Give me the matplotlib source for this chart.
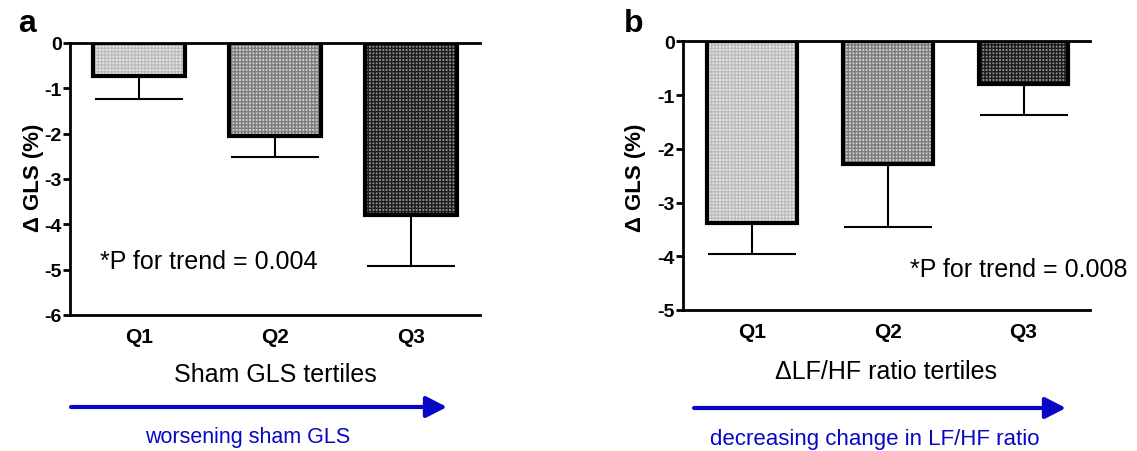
import matplotlib
matplotlib.use("Agg")
import matplotlib.pyplot as plt
from matplotlib.patches import FancyArrowPatch

plt.rcParams['font.family'] = ['Liberation Sans', 'DejaVu Sans']
plt.rcParams['hatch.linewidth'] = 1.0
plt.rcParams['axes.unicode_minus'] = False

# data
tertiles = ['Q1', 'Q2', 'Q3']
sham_mean = [-0.72, -2.05, -3.80]
sham_err = [0.52, 0.47, 1.13]
lfhf_mean = [-3.38, -2.28, -0.79]
lfhf_err = [0.57, 1.18, 0.59]

face_cols = ['#e8e8e8', '#d0d0d0', '#8c8c8c']
hatch_cols = ['#bcbcbc', '#7c7c7c', '#1c1c1c']
blue = '#0808c4'

W, H = 1137, 452
fig = plt.figure(figsize=(W / 100, H / 100), dpi=100)


def fx(x):
    return x / W


def fy(y):
    return 1 - y / H


def panel(rect, means, errs, ymin, width, xlim):
    ax = fig.add_axes(rect)
    x = range(len(means))
    for i in x:
        ax.bar(i, means[i], width=width, color=face_cols[i], edgecolor=hatch_cols[i],
               hatch='+++++', linewidth=0, zorder=2)
    ax.bar(x, means, width=width, fill=False, edgecolor='black', linewidth=3, zorder=3)
    ax.errorbar(x, means, yerr=[errs, [0] * len(errs)], fmt='none', ecolor='black',
                elinewidth=1.5, capsize=32, capthick=1.5, zorder=1)
    ax.set_xlim(*xlim)
    ax.set_ylim(ymin, 0)
    ax.set_yticks(range(ymin, 1))
    ax.set_xticks(list(x))
    ax.set_xticklabels(tertiles)
    ax.spines['right'].set_visible(False)
    for s in ['left', 'bottom', 'top']:
        ax.spines[s].set_linewidth(2)
    ax.tick_params(axis='y', length=5, width=2, pad=1, labelsize=14)
    ax.tick_params(axis='x', length=0, pad=9, labelsize=15)
    for lab in ax.get_xticklabels() + ax.get_yticklabels():
        lab.set_fontweight('bold')
    ax.set_facecolor('none')
    return ax


ax1 = panel([fx(70), fy(316), fx(410), (316 - 44) / H], sham_mean, sham_err, -6, 0.68,
            (-0.51, 2.51))
ax2 = panel([fx(683), fy(311), fx(407), (311 - 42.3) / H], lfhf_mean, lfhf_err, -5, 0.66,
            (-0.51, 2.49))

ax1.text(-0.29, -4.81, '*P for trend = 0.004', fontsize=18, va='center', ha='left')
ax2.text(1.16, -4.23, '*P for trend = 0.008', fontsize=18, va='center', ha='left')

fig.text(fx(18), fy(32), 'a', fontsize=23, fontweight='bold', va='baseline')
fig.text(fx(624), fy(32), 'b', fontsize=23, fontweight='bold', va='baseline')

fig.text(fx(33), fy(178), '\u0394 GLS (%)', rotation=90, fontsize=16, fontweight='bold',
         ha='center', va='center')
fig.text(fx(635), fy(178), '\u0394 GLS (%)', rotation=90, fontsize=16, fontweight='bold',
         ha='center', va='center')

fig.text(fx(275), fy(375), 'Sham GLS tertiles', fontsize=18, ha='center', va='center')
fig.text(fx(886), fy(372), '\u0394LF/HF ratio tertiles', fontsize=18, ha='center', va='center')

for x0, x1, y in [(71, 447, 408), (694, 1066, 409)]:
    arr = FancyArrowPatch((fx(x0), fy(y)), (fx(x1), fy(y)), transform=fig.transFigure,
                          arrowstyle='-|>,head_length=0.9,head_width=0.46',
                          mutation_scale=14, lw=3, color=blue, shrinkA=0, shrinkB=0)
    fig.patches.append(arr)

fig.text(fx(248), fy(438), 'worsening sham GLS', fontsize=15.5, color=blue, ha='center', va='center')
fig.text(fx(875), fy(440), 'decreasing change in LF/HF ratio', fontsize=16, color=blue,
         ha='center', va='center')

fig.savefig('out.png', dpi=100, facecolor='white')
